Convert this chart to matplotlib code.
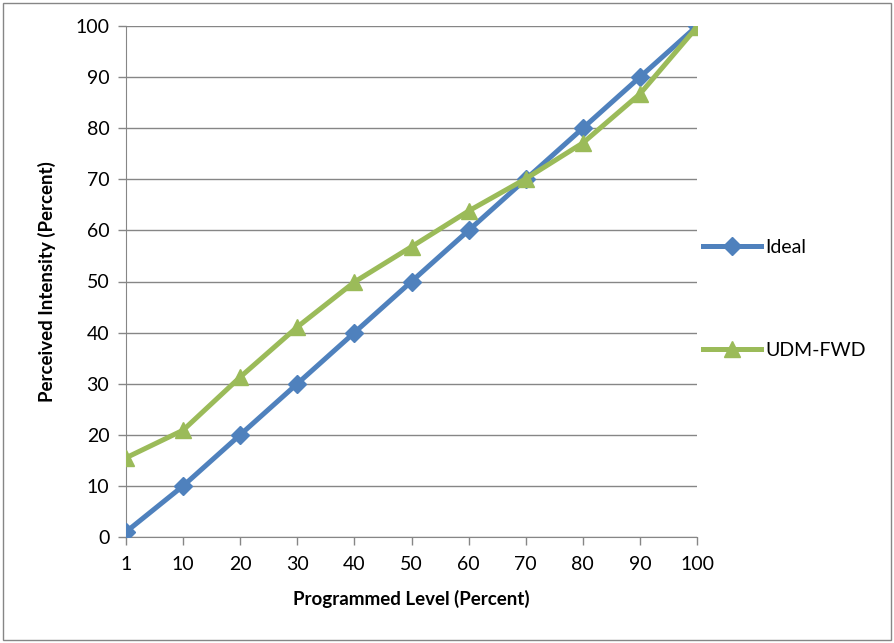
import numpy as np
import matplotlib
matplotlib.use('Agg')
import matplotlib.pyplot as plt
from matplotlib.patches import Rectangle

plt.rcParams['font.family'] = ['Lato', 'DejaVu Sans']

levels = ['1', '10', '20', '30', '40', '50', '60', '70', '80', '90', '100']
ideal = [1, 10, 20, 30, 40, 50, 60, 70, 80, 90, 100]
udm_fwd = [15.5, 20.9, 31.3, 41.1, 49.9, 56.8, 63.8, 70.1, 77.1, 86.7, 99.8]

blue = '#4F81BD'
green = '#9BBB59'
grid_c = '#868686'

fig = plt.figure(figsize=(8.94, 6.43), dpi=100)
ax = fig.add_axes([126/894, 1-537/643, (697-126)/894, (537-26)/643])

x = np.arange(len(levels))
ax.plot(x, ideal, color=blue, lw=3.6, marker='D', ms=9, label='Ideal', zorder=3)
ax.plot(x, udm_fwd, color=green, lw=3.6, marker='^', ms=12, label='UDM-FWD', zorder=4)

ax.set_xlim(0, len(levels) - 1)
ax.set_ylim(0, 100)
ax.set_yticks(range(0, 101, 10))
ax.set_xticks(x)
ax.set_xticklabels(levels)
ax.yaxis.grid(True, color=grid_c, lw=1)
ax.set_axisbelow(True)
for s in ['top', 'right']:
    ax.spines[s].set_visible(False)
for s in ['left', 'bottom']:
    ax.spines[s].set_color(grid_c)
ax.tick_params(axis='both', colors=grid_c, labelcolor='black', labelsize=14, length=6, width=1)
ax.tick_params(axis='x', pad=8)
ax.tick_params(axis='y', pad=6)

ax.set_xlabel('Programmed Level (Percent)', fontsize=13.5, fontweight='bold', labelpad=12)
ax.set_ylabel('Perceived Intensity (Percent)', fontsize=13.5, fontweight='bold', labelpad=14)

ax.legend(loc='center left', bbox_to_anchor=(0.997, 0.466), frameon=False, fontsize=14,
          labelspacing=4.45, handlelength=3, handletextpad=0.2, borderaxespad=0.0)

fig.patches.append(Rectangle((3/894, 3/643), 888/894, 637/643, transform=fig.transFigure,
                             fill=False, edgecolor='#868686', lw=1))

fig.savefig('out.png', dpi=100)
